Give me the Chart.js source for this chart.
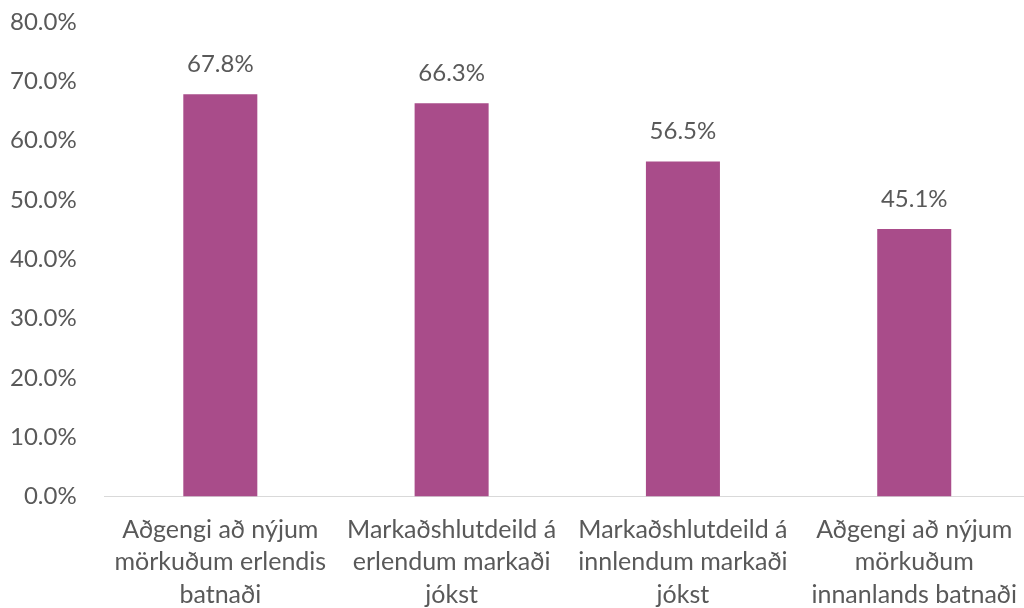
<!DOCTYPE html>
<html>
<head>
<meta charset="utf-8">
<script src="https://cdn.jsdelivr.net/npm/chart.js@4"></script>
<style>
  html, body { margin: 0; padding: 0; background: #fff; overflow: hidden; }
  #wrap { width: 1034px; height: 608px; }
</style>
</head>
<body>
<div id="wrap"><canvas id="chart"></canvas></div>
<script>
const categories = [
  ["Aðgengi að nýjum", "mörkuðum erlendis", "batnaði"],
  ["Markaðshlutdeild á", "erlendum markaði", "jókst"],
  ["Markaðshlutdeild á", "innlendum markaði", "jókst"],
  ["Aðgengi að nýjum", "mörkuðum", "innanlands batnaði"]
];
const values = [67.8, 66.3, 56.5, 45.1];
const yTicks = [0, 10, 20, 30, 40, 50, 60, 70, 80];

const textColor = '#595959';
const fontFamily = 'Lato, "Open Sans", sans-serif';

// labels above each bar
const valueLabels = {
  id: 'valueLabels',
  afterDatasetsDraw(chart) {
    const ctx = chart.ctx;
    const meta = chart.getDatasetMeta(0);
    ctx.save();
    ctx.fillStyle = textColor;
    ctx.font = '24px ' + fontFamily;
    ctx.textAlign = 'center';
    ctx.textBaseline = 'middle';
    meta.data.forEach((bar, i) => {
      ctx.fillText(values[i].toFixed(1) + '%', bar.x, bar.y - 30);
    });
    ctx.restore();
  }
};

new Chart(document.getElementById('chart'), {
  type: 'bar',
  data: {
    labels: categories,
    datasets: [{
      data: values,
      backgroundColor: '#A94C8A',
      categoryPercentage: 1,
      barPercentage: 0.32
    }]
  },
  options: {
    responsive: true,
    maintainAspectRatio: false,
    animation: false,
    layout: { padding: { top: 0, left: -18, right: 0, bottom: -20 } },
    plugins: {
      legend: { display: false },
      tooltip: { enabled: false }
    },
    scales: {
      x: {
        grid: { display: false, drawTicks: false },
        border: { display: true, color: '#d9d9d9', width: 1 },
        ticks: {
          color: textColor,
          font: { size: 25, family: fontFamily, lineHeight: 1.3 },
          padding: 17,
          maxRotation: 0,
          autoSkip: false
        }
      },
      y: {
        min: 0,
        max: 80,
        afterBuildTicks(axis) {
          axis.ticks = yTicks.map(v => ({ value: v }));
        },
        // tick padding would otherwise be added above the top label too
        afterFit(axis) {
          axis.paddingTop = 22;
          axis.paddingBottom = 14;
        },
        grid: { display: false, drawTicks: false },
        border: { display: false },
        ticks: {
          color: textColor,
          font: { size: 24, family: fontFamily },
          padding: 28,
          callback: v => v.toFixed(1) + '%'
        }
      }
    }
  },
  plugins: [valueLabels]
});
</script>
</body>
</html>
